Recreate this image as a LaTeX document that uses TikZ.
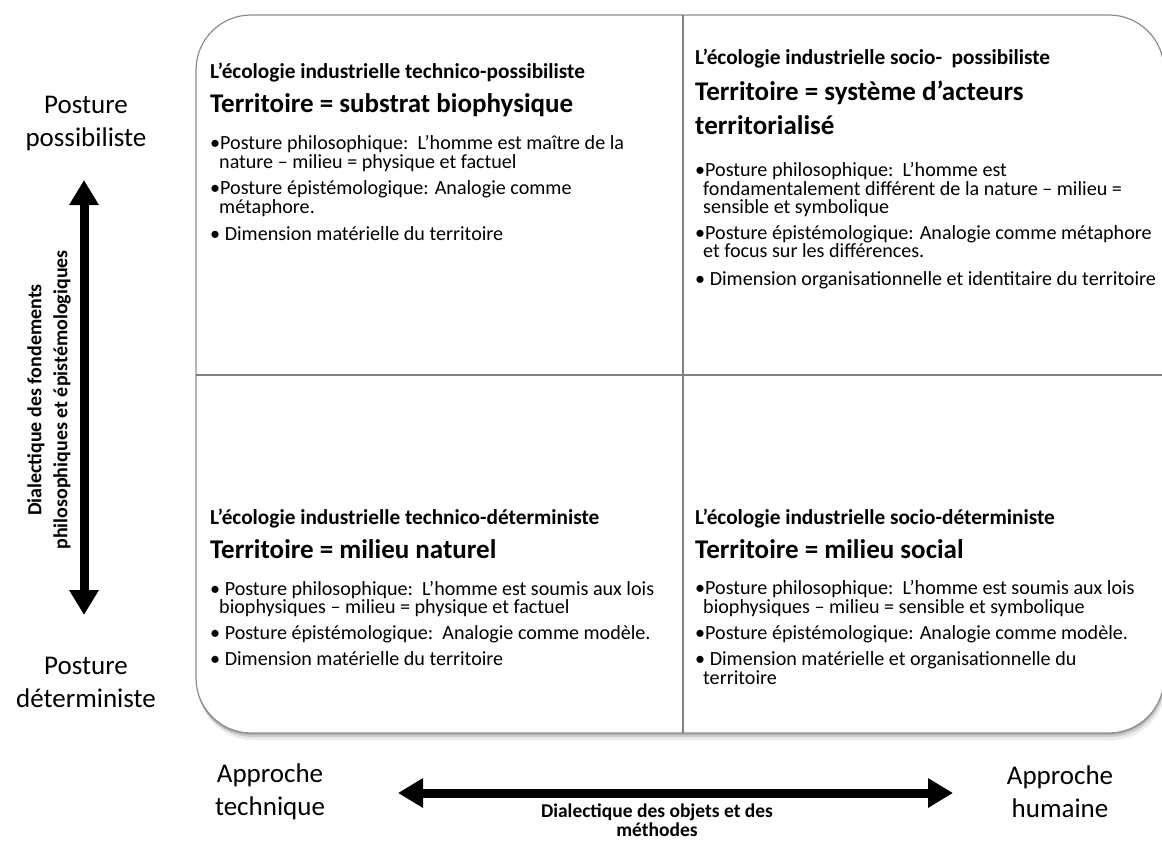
\documentclass[tikz,border=0pt]{standalone}
\usepackage{fontspec}
\setmainfont{Carlito}
\usetikzlibrary{arrows.meta}
\definecolor{boxline}{HTML}{8C8C8C}
\definecolor{divline}{HTML}{808080}
\begin{document}
\begin{tikzpicture}[x=1pt,y=-1pt,
  ln/.style={anchor=base west,inner sep=0pt,font=\fontsize{20.1}{19}\selectfont},
  hd/.style={anchor=base west,inner sep=0pt,font=\fontsize{21.3}{19}\selectfont\bfseries},
  tt/.style={anchor=base west,inner sep=0pt,font=\fontsize{27}{27}\selectfont\bfseries},
  side/.style={align=center,inner sep=0pt,font=\fontsize{27}{33}\selectfont},
  axlab/.style={align=center,inner sep=0pt,font=\fontsize{19.5}{19}\selectfont\bfseries},
  vlabst/.style={align=center,inner sep=0pt,font=\fontsize{20}{26}\selectfont\bfseries},
  bigarrow/.style={line width=9pt,{Triangle[length=25pt,width=28pt]}-{Triangle[length=25pt,width=28pt]}}]
\useasboundingbox (0,0) rectangle (1162,843);
% shadow
\fill[black,opacity=0.08,rounded corners=55] (198,20) rectangle (1166,740);
\fill[black,opacity=0.12,rounded corners=55] (197,18) rectangle (1165,737);
\fill[black,opacity=0.15,rounded corners=55] (196,16) rectangle (1164,735);
% main box
\draw[boxline,line width=1.2pt,fill=white,rounded corners=55] (196,15) rectangle (1164,733);
\coordinate (vtop) at (683,15);
\coordinate (vbot) at (683,733);
\coordinate (hl) at (196,375);
\coordinate (hr) at (1163,375);
\draw[divline,line width=1.2pt] (vtop) -- (vbot);
\draw[divline,line width=1.2pt] (hl) -- (hr);

% Q1
\node[hd] (q1h) at (210,78) {L’écologie industrielle technico-possibiliste};
\node[tt] (q1t) at (210,112) {Territoire = substrat biophysique};
\node[ln] (q1a) at (210,149) {•Posture philosophique:\ \ L’homme est maître de la};
\node[ln] (q1b) at (219,168) {nature – milieu = physique et factuel};
\node[ln] (q1c) at (210,194) {•Posture épistémologique: Analogie comme};
\node[ln] (q1d) at (219,213) {métaphore.};
\node[ln] (q1e) at (210,240) {• Dimension matérielle du territoire};

% Q2
\node[hd] (q2h) at (695,64) {L’écologie industrielle socio-\ \ possibiliste};
\node[tt] (q2t) at (695,100) {Territoire = système d’acteurs};
\node[tt] (q2u) at (695,134) {territorialisé};
\node[ln] (q2a) at (695,176) {•Posture philosophique:\ \ L’homme est};
\node[ln] (q2b) at (703,195) {fondamentalement différent de la nature – milieu =};
\node[ln] (q2c) at (703,213) {sensible et symbolique};
\node[ln] (q2d) at (695,239) {•Posture épistémologique: Analogie comme métaphore};
\node[ln] (q2e) at (703,257) {et focus sur les différences.};
\node[ln] (q2f) at (695,285) {• Dimension organisationnelle et identitaire du territoire};

% Q3
\node[hd] (q3h) at (210,524) {L’écologie industrielle technico-déterministe};
\node[tt] (q3t) at (210,558) {Territoire = milieu naturel};
\node[ln] (q3a) at (210,595) {• Posture philosophique:\ \ L’homme est soumis aux lois};
\node[ln] (q3b) at (219,613) {biophysiques – milieu = physique et factuel};
\node[ln] (q3c) at (210,639) {• Posture épistémologique:\ \ Analogie comme modèle.};
\node[ln] (q3d) at (210,665) {• Dimension matérielle du territoire};

% Q4
\node[hd] (q4h) at (695,524) {L’écologie industrielle socio-déterministe};
\node[tt] (q4t) at (695,558) {Territoire = milieu social};
\node[ln] (q4a) at (695,594) {•Posture philosophique:\ \ L’homme est soumis aux lois};
\node[ln] (q4b) at (703,613) {biophysiques – milieu = sensible et symbolique};
\node[ln] (q4c) at (695,639) {•Posture épistémologique: Analogie comme modèle.};
\node[ln] (q4d) at (695,665) {• Dimension matérielle et organisationnelle du};
\node[ln] (q4e) at (703,684) {territoire};

% side labels
\node[side] (pposs) at (86,124) {Posture\\possibiliste};
\node[side] (pdet) at (86,682) {Posture\\déterministe};
\node[side] (atech) at (270,792) {Approche\\technique};
\node[side] (ahum) at (1060,792) {Approche\\humaine};

% arrows
\coordinate (vat) at (84,180);
\coordinate (vab) at (84,615);
\draw[bigarrow] (vat) -- (vab);
\coordinate (hal) at (398,793);
\coordinate (har) at (953,793);
\draw[bigarrow] (hal) -- (har);

\node[vlabst,rotate=90] (vlab) at (49,400) {Dialectique des fondements\\philosophiques et épistémologiques};
\node[axlab] (hlab) at (657,820) {Dialectique des objets et des\\méthodes};
\end{tikzpicture}
\end{document}
